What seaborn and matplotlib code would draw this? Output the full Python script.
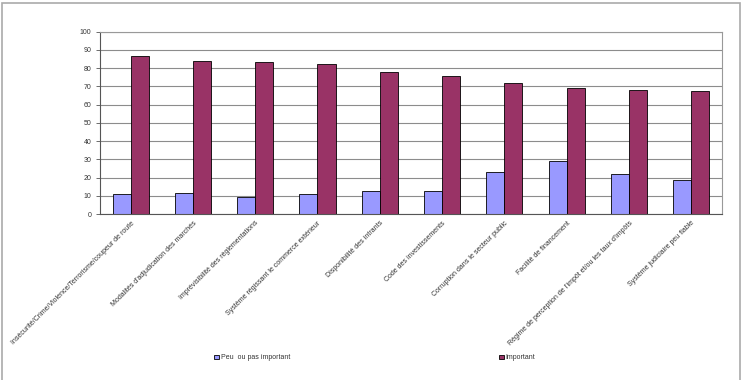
import pandas as pd
import numpy as np
import seaborn as sns
import matplotlib.pyplot as plt
from matplotlib.patches import Rectangle

# donnees
categories = [
    "Insécurité/Crime/Violence/Terrorisme/coupeur de route",
    "Modalités d'adjudication des marchés",
    "Imprévisibilité des réglementations",
    "Système régissant le commerce extérieur",
    "Disponibilité des intrants",
    "Code des investissements",
    "Corruption dans le secteur public",
    "Facilité de financement",
    "Régime de perception de l'impôt et/ou les taux d'impôts",
    "Système judiciaire peu fiable",
]
peu_important = [10.9, 11.8, 9.6, 10.9, 12.8, 12.9, 22.8, 29.3, 21.7, 18.4]
important = [86.7, 84.2, 83.2, 82.3, 77.8, 75.8, 72.1, 68.9, 67.8, 67.4]
series_names = ["Peu  ou pas important", "Important"]
colors = ["#9999FF", "#993366"]

df = pd.DataFrame({
    "cat": categories * 2,
    "serie": [series_names[0]] * len(categories) + [series_names[1]] * len(categories),
    "val": peu_important + important,
})

sns.set_style("white")
plt.rcParams['font.family'] = ['Liberation Sans', 'DejaVu Sans']

fig = plt.figure(figsize=(7.41, 3.80), dpi=100)
ax = fig.add_axes([0.1343, 0.4368, 0.8405, 0.4797])

sns.barplot(data=df, x="cat", y="val", hue="serie", palette=colors,
            width=0.58, edgecolor="black", linewidth=0.6, ax=ax,
            legend=False, saturation=1)

ax.set_ylim(0, 100)
ax.set_xlim(-0.5, len(categories) - 0.5)
ax.set_yticks(range(0, 101, 10))
ax.yaxis.grid(True, color="#8c8c8c", linewidth=0.8)
ax.set_axisbelow(True)
ax.set_xlabel("")
ax.set_ylabel("")

ax.set_xticks(range(len(categories)))
ax.set_xticklabels(categories, rotation=45, ha="right", rotation_mode="anchor",
                   fontsize=5, color="#333333")
ax.set_xticks(np.arange(-0.5, len(categories), 1), minor=True)
ax.tick_params(axis="x", which="major", length=0, pad=4)
ax.tick_params(axis="x", which="minor", length=3, width=0.6, color="#555555", direction="out")
ax.tick_params(axis="y", length=3, width=0.6, color="#555555", labelsize=5,
               labelcolor="#333333", pad=3, left=True, direction="out")

for s in ["top", "right"]:
    ax.spines[s].set_color("#999999")
    ax.spines[s].set_linewidth(0.8)
for s in ["left", "bottom"]:
    ax.spines[s].set_color("#555555")
    ax.spines[s].set_linewidth(0.8)

handles = [Rectangle((0, 0), 1, 1, facecolor=c, edgecolor="black", linewidth=0.6) for c in colors]
fig.legend(handles, series_names, loc="center", bbox_to_anchor=(0.506, 0.058),
           ncol=2, frameon=False, fontsize=5, handlelength=0.7, handleheight=0.7,
           handletextpad=0.3, columnspacing=30, labelcolor="#333333")

# cadre autour du graphique
fig.patches.append(Rectangle((0.003, -0.01), 0.995, 1.003, transform=fig.transFigure,
                             fill=False, edgecolor="#aaaaaa", linewidth=1.2))

fig.savefig("out.png", dpi=100)
